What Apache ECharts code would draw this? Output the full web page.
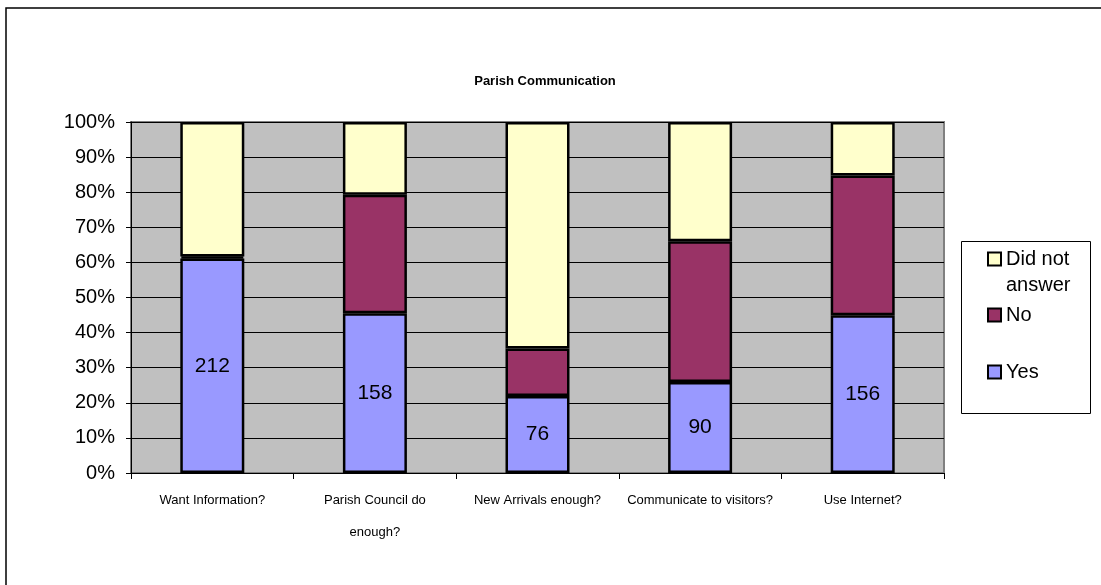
<!DOCTYPE html>
<html>
<head>
<meta charset="utf-8">
<script src="https://cdn.jsdelivr.net/npm/echarts@6/dist/echarts.min.js"></script>
<style>
  html, body { margin: 0; padding: 0; background: #fff; }
  #chart { width: 1101px; height: 585px; }
</style>
</head>
<body>
<div id="chart"></div>
<script>
const categories = ['Want Information?', 'Parish Council do\nenough?', 'New Arrivals enough?', 'Communicate to visitors?', 'Use Internet?'];
const yesValues = [212, 158, 76, 90, 156];
const noValues = [2, 117, 47, 139, 138];
const didNotAnswerValues = [133, 72, 224, 118, 53];
const yTicks = [0, 10, 20, 30, 40, 50, 60, 70, 80, 90, 100];

const totals = yesValues.map((v, i) => v + noValues[i] + didNotAnswerValues[i]);
const pct = arr => arr.map((v, i) => ({ value: v / totals[i] * 100, raw: v }));

const font = 'Arial, "Liberation Sans", sans-serif';
const myChart = echarts.init(document.getElementById('chart'));

const barBorder = { borderColor: '#000', borderWidth: 2.5 };
const legendText = { fontFamily: font, fontSize: 20, color: '#000', lineHeight: 22 };
const legendIcon = { icon: 'rect', itemWidth: 13, itemHeight: 13, itemStyle: { borderColor: '#000', borderWidth: 2 } };

const option = {
    animation: false,
    backgroundColor: '#fff',
    textStyle: { fontFamily: font },
    title: {
        text: 'Parish Communication',
        left: 540,
        top: 70,
        textAlign: 'center',
        textStyle: { fontFamily: font, fontSize: 13, fontWeight: 'bold', color: '#000' }
    },
    graphic: [
        { type: 'rect', shape: { x: 6, y: 8, width: 1100, height: 590 }, style: { fill: 'none', stroke: '#000', lineWidth: 1.5 }, z: -1 },
        { type: 'rect', shape: { x: 961.5, y: 241.5, width: 129, height: 172 }, style: { fill: '#fff', stroke: '#000', lineWidth: 1 }, z: -1 }
    ],
    legend: [
        Object.assign({
            // blank first line keeps the icon level with "Did not"
            data: ['Did not answer'], left: 987, top: 220, padding: 0,
            formatter: () => '\nDid not\nanswer',
            textStyle: Object.assign({}, legendText, { lineHeight: 26 })
        }, legendIcon),
        Object.assign({
            data: ['No'], left: 987, top: 304, padding: 0,
            textStyle: legendText
        }, legendIcon),
        Object.assign({
            data: ['Yes'], left: 987, top: 361, padding: 0,
            textStyle: legendText
        }, legendIcon)
    ],
    grid: {
        left: 131, right: 157, top: 122, bottom: 112,
        show: true, backgroundColor: '#C0C0C0', borderColor: '#808080', borderWidth: 2
    },
    xAxis: {
        type: 'category',
        data: categories,
        axisLine: { lineStyle: { color: '#000', width: 1 } },
        axisTick: { show: true, length: 6, lineStyle: { color: '#000' } },
        axisLabel: { fontFamily: font, fontSize: 13, color: '#000', lineHeight: 32, margin: 11, verticalAlign: 'top', interval: 0 }
    },
    yAxis: {
        type: 'value',
        min: 0, max: 100, interval: 10,
        axisLine: { show: true, lineStyle: { color: '#000', width: 1 } },
        axisTick: { show: true, length: 5, lineStyle: { color: '#000' } },
        axisLabel: {
            fontFamily: font, fontSize: 20, color: '#000', margin: 16,
            formatter: v => yTicks.includes(v) ? v + '%' : ''
        },
        splitLine: { show: true, lineStyle: { color: '#000', width: 1 } }
    },
    series: [
        {
            name: 'Yes', type: 'bar', stack: 'total', barWidth: 64,
            data: pct(yesValues),
            itemStyle: Object.assign({ color: '#9999FF' }, barBorder),
            label: {
                show: true, position: 'inside', fontFamily: font, fontSize: 21, color: '#000',
                formatter: p => p.data.raw
            }
        },
        {
            name: 'No', type: 'bar', stack: 'total', barWidth: 64,
            data: pct(noValues),
            itemStyle: Object.assign({ color: '#993366' }, barBorder)
        },
        {
            name: 'Did not answer', type: 'bar', stack: 'total', barWidth: 64,
            data: pct(didNotAnswerValues),
            itemStyle: Object.assign({ color: '#FFFFCC' }, barBorder)
        }
    ]
};

myChart.setOption(option);
</script>
</body>
</html>
